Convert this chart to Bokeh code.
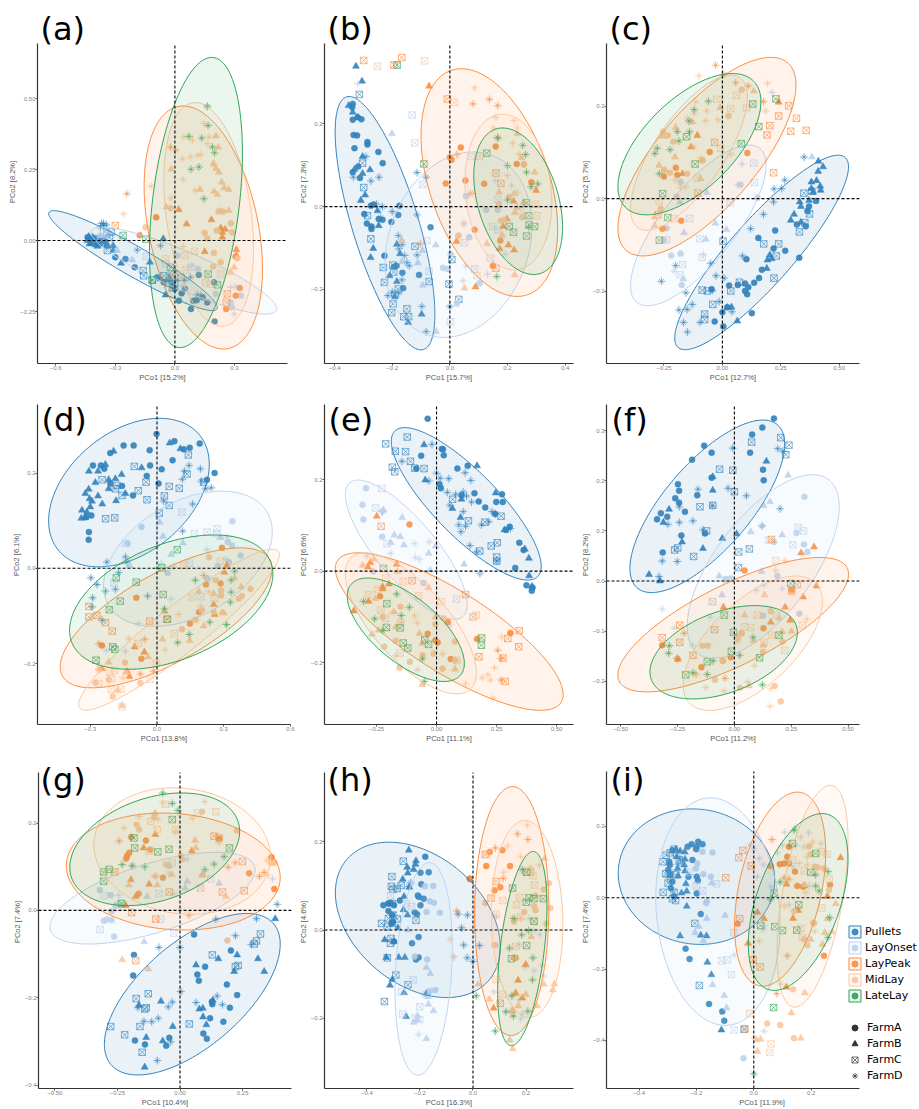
import numpy as np
from bokeh.embed import file_html
from bokeh.resources import INLINE
from bokeh.plotting import figure
from bokeh.layouts import row, column
from bokeh.models import Label, FixedTicker, Legend, LegendItem

STAGES = ["Pullets", "LayOnset", "LayPeak", "MidLay", "LateLay"]
STAGE_COLORS = ["#3182bd", "#bfd3ee", "#fd8d3c", "#fdc79b", "#31a354"]
FARMS = ["FarmA", "FarmB", "FarmC", "FarmD"]

# Ellipses: centre x, half width, centre y, half height, correlation
a_ell = [(-.211,.425,-.0706,.176,-.94),(.045,.468,-.106,.153,-.88),(.143,.298,.046,.428,-.34),(.17,.226,.092,.394,-.3),(.106,.234,.134,.511,.34)]
b_ell = [(-.225,.173,-.04,.306,-.72),(.03,.255,-.092,.224,.2),(.137,.237,.058,.275,-.41),(.203,.151,.035,.188,-.13),(.237,.154,.013,.177,-.35)]
c_ell = [(.168,.372,-.1165,.2106,.88),(-.103,.29,-.058,.174,.75),(-.066,.381,.091,.215,.72),(-.143,.25,.0995,.168,.72),(-.141,.306,.118,.153,.6)]
d_ell = [(-.126,.361,.159,.156,.38),(.139,.379,.02,.142,.4),(.041,.476,-.104,.147,.7),(.099,.451,-.129,.169,.93),(.064,.457,-.071,.141,.42)]
e_ell = [(.124,.3125,.147,.1665,-.82),(-.126,.254,.047,.152,-.79),(.053,.475,-.132,.172,-.8),(-.107,.273,-.114,.154,-.7),(-.128,.244,-.128,.113,-.65)]
f_ell = [(-.119,.34,.149,.172,.72),(.127,.334,.029,.183,.65),(-.005,.507,-.087,.134,.75),(.081,.306,-.124,.134,.62),(-.047,.324,-.142,.093,.42)]
g_ell = [(.049,.351,-.192,.185,.62),(-.11,.41,.028,.105,.62),(-.027,.427,.089,.134,-.1),(.009,.353,.136,.145,-.1),(-.101,.339,.14,.129,.32)]
h_ell = [(-.208,.311,.023,.176,-.35),(-.186,.108,-.088,.241,.2),(.146,.14,.043,.282,.02),(.204,.135,.025,.223,-.06),(.186,.093,-.042,.22,.44)]
i_ell = [(-.2,.273,.059,.19,-.05),(-.125,.217,-.039,.319,-.12),(.092,.159,.024,.272,.38),(.205,.124,.004,.311,.5),(.155,.174,-.012,.248,.48)]

# ---- panel (a)
a_pullets = dict(
 A=[(-.44,.012),(-.384,.009),(-.342,-.018),(-.30,-.059),(-.249,-.065),(-.202,-.094),(-.089,-.129),(-.056,-.147),(-.013,-.159),(.034,-.186),(.02,-.212),(.093,-.212),(.163,-.218),(.081,-.241),(.20,-.285),(.12,-.121),(.197,-.147),(-.41,.01),(-.37,0),(-.35,-.005),(-.39,-.006),(-.03,-.135),(0,-.17),(.05,-.17),(.14,-.2),(.11,-.21)],
 B=[(-.434,.014),(-.423,-.009),(-.409,0),(-.311,-.018),(-.311,-.035),(-.271,-.08),(-.126,-.076),(-.059,.006),(-.047,-.192),(-.072,-.135),(-.44,0),(-.43,-.012),(-.415,.012),(-.40,-.015),(-.39,-.02),(-.38,-.012),(-.36,0)],
 C=[(-.34,-.035),(-.16,-.106),(-.157,-.124),(-.114,-.139),(-.056,-.124),(-.013,-.167),(-.013,-.135),(-.342,.024),(-.38,-.005),(-.36,-.01),(-.33,.01),(-.32,.03),(-.03,-.15),(0,-.15),(.03,-.13)],
 D=[(-.359,.053),(-.375,.047),(-.19,-.033),(-.072,-.018),(.079,-.129),(.113,-.191),(.13,-.194),(.003,-.141),(-.36,.06),(-.345,.055),(-.37,.06),(0,-.11),(.05,-.14),(-.03,-.12)])
a_onset = dict(
 A=[(.116,-.10),(.332,-.194),(.281,-.218),(.286,-.235),(.205,-.188),(.012,-.053)],
 B=[(-.215,-.068),(-.291,-.035),(-.375,.018)],
 C=[(-.145,-.056),(-.342,.024),(-.375,.012),(.079,-.094),(-.047,-.082)],
 D=[(.298,-.259),(.281,-.165),(.306,-.162),(.084,-.088),(.037,-.159),(-.342,.035)])
a_peak = dict(
 A=[(-.177,.019),(-.094,.082),(.306,-.194),(.327,-.167),(.258,-.241),(.306,-.056)],
 B=[(.019,.109),(.059,.058),(.184,.073),(.231,.044),(.253,.04),(.239,.029),(.239,.012),(.15,-.039),(.31,-.032),(.31,-.053)],
 C=[(.264,-.188),(.259,-.218),(-.30,.053)],
 D=[(-.242,.165),(-.022,.329),(.003,.318)])
a_mid = dict(
 A=[(-.148,.047),(-.022,.114),(.219,.102),(.244,.102),(.21,.035),(.281,.061),(.15,.027),(.163,.008),(.197,-.044),(.231,-.076),(.192,-.091),(.315,-.062),(.288,.029)],
 B=[(.207,.368),(.219,.329),(-.019,.251),(.194,.271),(.221,.241),(.207,.253),(.236,.205),(.248,.185),(.271,.18),(.126,.18),(.197,.173),(.214,.161),(-.044,.118),(.271,.106),(.231,.104),(.298,-.094),(.281,-.112)],
 C=[(.099,-.038),(.051,-.053),(-.047,-.065),(.012,-.118),(.056,-.104),(.155,-.147),(.231,-.118),(.18,-.153),(-.022,-.124)],
 D=[(-.258,.094),(-.12,.192),(-.019,.149),(.042,.215),(.037,.288),(.113,.30),(.079,.294),(.13,.302),(.163,.47),(.146,.412),(.088,.353),(.045,.365),(.172,.365),(.163,.341),(.197,.265),(.101,.176),(.042,-.021)])
a_late = dict(
 C=[(-.261,.018),(-.146,.005),(.167,-.118),(.214,-.156),(-.022,-.094),(-.114,-.139)],
 D=[(.163,.473),(.167,.405),(.071,.367),(.135,.361),(.189,.329),(.2,.309),(.081,.251),(.121,.259),(.146,.147)])

# ---- panel (b)
b_pullets = dict(
 A=[(-.337,.248),(-.339,.24),(-.337,.21),(-.307,.211),(-.32,.216),(-.334,.173),(-.322,.172),(-.331,.141),(-.286,.156),(-.286,.15),(-.248,.132),(-.233,.105),(-.318,.097),(-.337,.083),(-.312,.069),(-.175,.002),(-.274,.002),(-.265,.005),(-.297,-.018),(-.288,-.041),(-.272,-.048),(-.272,-.054),(-.203,-.037),(-.247,-.03),(-.234,-.032),(-.179,-.02),(-.067,-.05),(-.227,-.119),(-.194,-.145),(-.185,-.143),(-.165,-.16),(-.162,-.197),(-.107,-.165)],
 B=[(-.326,.339),(-.305,.303),(-.351,.244),(-.337,.228),(-.32,.216),(-.303,.121),(-.331,.09),(-.303,.08),(-.277,.089),(-.294,.028),(-.309,.015),(-.251,-.01),(-.247,-.046),(-.266,-.101),(-.275,-.123),(-.184,-.091),(-.173,-.114),(-.209,-.167),(-.184,-.181),(-.191,-.218),(-.145,-.28),(-.098,-.26)],
 C=[(-.314,.271),(-.303,.105),(-.299,.046),(-.286,-.022),(-.274,-.078),(-.231,-.147),(-.198,-.141),(-.195,-.158),(-.227,-.183),(-.179,-.199),(-.191,-.212),(-.197,-.235),(-.202,-.256),(-.149,-.247),(-.16,-.266),(-.143,-.266),(-.121,-.096),(-.072,-.181),(-.003,-.187),(.007,-.128),(.031,-.224)],
 D=[(-.291,.121),(-.335,.071),(-.274,.062),(-.246,.071),(-.255,.006),(-.234,0),(-.24,-.027),(-.2,-.012),(-.114,-.02),(-.179,-.07),(-.177,-.102),(-.166,-.092),(-.157,-.118),(-.114,-.117),(-.149,-.135),(-.141,-.143),(-.166,-.177),(-.215,-.215),(-.177,-.209),(-.2,-.207),(-.097,-.241),(-.082,-.302),(-.114,.082),(-.083,.071),(0,-.241)])
b_onset = dict(
 A=[(.056,.025),(.126,-.008),(.166,-.008),(-.024,-.148),(-.008,-.151),(.003,-.115),(.024,-.234),(.103,-.185),(.03,-.07),(.067,-.074)],
 B=[(-.201,.176),(-.166,-.082),(-.095,-.106),(-.049,-.093),(-.111,-.136),(-.094,-.19),(-.047,-.302),(-.166,-.133)],
 C=[(-.131,.221),(-.122,.154),(-.094,.053),(-.08,-.082),(-.072,-.156),(.05,-.087),(.086,-.151),(.002,-.278),(.141,-.125),(.074,.121),(.166,.017),(.149,-.048),(.166,-.056)],
 D=[(-.32,.297),(.157,.063),(.049,-.042),(.055,-.144),(.046,-.179),(.131,-.163),(.192,-.115)])
b_peak = dict(
 A=[(.038,.143),(0,.119),(.006,.113),(-.014,.056),(.054,.063),(.119,.055),(.159,.145),(.086,-.056),(.149,-.143),(.175,-.082),(.232,.103),(.257,.102),(.283,.059)],
 B=[(-.072,.291),(.023,-.084),(.089,-.194),(.221,.013),(.299,.039),(.173,-.102),(.203,-.093),(.223,-.105),(.185,-.048),(.198,-.03)],
 C=[(-.299,.353),(-.167,.36),(-.194,.342),(-.009,.26),(.16,.081),(.177,.056),(.16,-.149)],
 D=[(-.103,-.09),(.024,.126),(.08,.248),(.137,.259),(.166,.244),(.166,.166),(.071,.032)])
b_mid = dict(
 A=[(.029,-.071),(.171,.006),(.206,.023),(.257,.103),(.177,-.034),(.189,-.032),(.251,-.026)],
 B=[(-.168,-.081),(.051,-.197),(.129,-.09),(.182,-.069),(.225,-.165),(.171,.035),(.223,.031),(.234,.176),(.248,.118),(.225,-.015),(.234,-.002),(.255,.01),(.294,.083)],
 C=[(-.251,.339),(-.088,.352),(.015,.252),(.103,.121),(.094,-.167),(.301,-.022),(.297,.006),(.246,-.01)],
 D=[(.086,.287),(.16,.215),(.223,.208),(.234,.19),(.152,.19),(.218,.153),(.24,.127),(.048,-.04),(.2,.075),(.214,.051),(.234,.035),(.08,.031)])
b_late = dict(
 C=[(-.183,.342),(.128,.129),(-.09,.103),(.266,.009),(.273,-.022),(.275,-.044),(.294,-.048),(.266,-.071),(.221,-.062),(.206,-.048)],
 D=[(.253,.148),(.263,.126),(.266,.083),(.2,.099),(.166,.166),(.305,.055),(.282,.048),(.2,.016),(.274,-.05),(.163,-.169)])

# ---- panel (c)
c_pullets = dict(
 A=[(.226,-.069),(.154,-.085),(.219,-.108),(.269,-.113),(.329,-.128),(.103,-.131),(.169,-.154),(.157,-.172),(.136,-.182),(.029,-.188),(.066,-.187),(.097,-.184),(.111,-.192),(.097,-.2),(.106,-.207),(-.046,-.196),(-.033,-.266),(0,-.246),(.021,-.235),(.004,-.277),(.126,-.248),(.364,-.027),(.401,-.005),(.371,-.017),(.319,-.056),(.357,-.06)],
 B=[(.411,.081),(.431,.069),(.41,.059),(.381,.036),(.403,.039),(.419,.027),(.421,.018),(.381,.022),(.389,.014),(.331,-.007),(.336,-.017),(.307,-.034),(.293,-.047),(.336,-.051),(.203,-.122),(.211,-.13),(.193,-.133),(.19,-.151),(.064,-.265),(.039,-.235),(.021,-.236),(.371,-.004)],
 C=[(.349,.012),(.383,.016),(.353,-.052),(.33,-.072),(.177,-.098),(.241,-.098),(.231,-.124),(.221,-.172),(.073,-.181),(.036,-.2),(-.086,-.198),(-.064,-.2),(-.041,-.229),(-.076,-.25),(-.076,-.262),(.003,-.092),(.373,-.033)],
 D=[(.35,.09),(.267,.04),(.221,.021),(.254,.022),(.219,-.007),(.176,-.034),(.121,-.065),(.086,-.124),(-.027,-.167),(.007,-.172),(-.05,-.14),(-.043,-.199),(-.014,-.223),(-.129,-.229),(-.151,-.24),(-.186,-.241),(-.166,-.268),(-.15,-.289),(-.096,-.268),(.041,-.245),(-.261,-.179),(-.2,-.145),(-.156,-.204)])
c_onset = dict(
 A=[(.15,.002),(.077,.03),(-.219,-.123),(-.179,-.119),(-.174,-.187),(-.239,-.064),(-.25,-.09),(-.179,.036)],
 B=[(.383,.09),(-.067,.013),(-.03,-.053),(.017,-.067),(-.071,-.088),(-.164,-.074),(-.167,-.174),(-.181,-.007)],
 C=[(.134,.077),(.137,.035),(.034,-.009),(-.14,-.043),(-.096,-.087),(-.171,-.143),(-.181,-.165),(-.239,-.089),(-.086,-.127)],
 D=[(.213,.23),(.084,.075),(.064,.03),(-.207,-.157),(-.081,-.121)])
c_peak = dict(
 A=[(.107,.099),(-.054,.101),(-.086,.083),(-.199,.067),(-.193,.051),(-.25,.048),(-.257,-.065),(-.176,-.048)],
 B=[(.241,.209),(-.134,.112),(-.107,.137),(-.171,.054)],
 C=[(.284,.201),(.241,.179),(.191,.138),(.203,.158),(.293,.146),(.359,.148),(.317,.174),(.219,.056),(-.033,.122),(-.104,.012),(-.276,-.035)],
 D=[(-.029,.289),(.176,.21),(.057,.251),(.111,.244),(.007,.268)])
c_mid = dict(
 A=[(.083,.236),(.026,.179),(-.233,.137),(-.254,.145),(-.25,.062),(-.224,.056),(-.15,.054),(-.196,.004),(-.086,.083),(-.21,.123),(-.264,-.022)],
 B=[(.134,.233),(-.01,.197),(-.254,.135),(-.271,.072),(-.246,.062),(-.203,.09),(-.093,.043),(-.29,-.058),(-.29,-.04),(-.2,.154),(-.129,.166)],
 C=[(-.024,.215),(.061,.224),(.036,.195),(.104,.197),(-.007,.109),(-.107,.045),(-.207,-.043),(-.271,-.006)],
 D=[(-.1,.266),(.193,.25),(.186,.19),(-.071,.169),(-.067,.19),(-.019,.171),(-.121,.185),(-.114,.21),(-.15,.174),(-.121,.112),(-.203,.04),(-.179,.025),(.036,.096),(-.093,.087),(-.157,.025)])
c_late = dict(
 C=[(.229,.216),(.13,.205),(.156,.156),(.081,.119),(-.117,.075),(-.256,.011),(-.234,-.041),(-.27,-.09),(-.153,.134)],
 D=[(-.06,.211),(-.121,.193),(-.143,.168),(-.141,.145),(-.193,.145),(-.186,.125),(-.224,.106),(-.279,.109),(-.289,.098),(-.27,.054)])

# ---- panel (d)
d_pullets = dict(
 A=[(-.002,.282),(-.15,.258),(-.105,.258),(-.033,.248),(.078,.267),(.12,.25),(.147,.253),(.192,.262),(.07,.227),(.021,.208),(-.031,.216),(-.046,.194),(.007,.178),(-.108,.153),(-.157,.173),(-.21,.242),(-.288,.216),(-.252,.216),(-.237,.209),(-.21,.178),(.259,.2),(.225,.186),(-.295,.111),(-.306,.076),(-.307,.06),(-.318,.108)],
 B=[(-.195,.246),(.057,.263),(.105,.251),(-.232,.218),(-.265,.204),(-.306,.204),(-.277,.18),(-.217,.186),(-.187,.188),(-.159,.197),(-.069,.211),(-.217,.167),(-.142,.157),(-.184,.142),(-.265,.152),(-.246,.135),(-.307,.166),(-.322,.157),(-.303,.146),(-.292,.141),(-.3,.129),(-.337,.122),(-.315,.118),(-.34,.105),(-.322,.106)],
 C=[(.141,.238),(-.102,.214),(-.247,.186),(-.18,.174),(-.187,.167),(-.157,.153),(-.084,.163),(-.049,.181),(-.045,.144),(.055,.172),(.1,.168),(.135,.198),(.21,.181),(.033,.152),(.055,.132),(.01,.116),(-.231,.104),(-.19,.106)],
 D=[(.144,.216),(.123,.204),(.114,.187),(.195,.209),(.199,.183),(.22,.167),(.244,.169),(.16,.135),(.03,.141),(.115,.078),(-.225,.013),(-.142,.024),(-.135,.013),(-.172,-.009),(-.297,-.02),(-.27,-.034),(-.232,-.048),(-.187,-.044),(-.289,-.062),(-.292,-.081),(-.247,-.109),(-.042,-.058)])
d_onset = dict(
 A=[(.339,.099),(-.069,.087),(-.132,.052),(.318,.055),(.337,.048),(.376,.027),(.324,.013),(.274,.005),(.048,-.01),(.225,-.022)],
 B=[(.012,.097),(.027,.067),(.117,.053),(.064,.029),(.285,.065),(-.123,.006)],
 C=[(.112,.118),(.168,.073),(.225,.076),(.27,.083),(.267,.073),(-.142,.052),(.145,.011),(.198,-.06),(-.193,-.031)],
 D=[(.225,.039),(.315,.066),(.31,.019),(.018,.01),(.075,.003),(.063,-.065),(-.085,-.116),(-.142,-.174),(-.228,-.172),(.235,-.023)])
d_peak = dict(
 A=[(.292,.043),(-.093,-.062),(.22,-.034),(.286,-.032),(.189,-.092),(.148,-.116),(-.07,-.19),(-.247,-.162)],
 B=[(.313,.006),(.303,-.008),(.255,-.076),(.034,-.09),(.259,-.097),(-.1,-.165),(-.057,-.176),(-.135,-.216),(-.124,-.227),(-.247,-.211)],
 C=[(-.306,-.08),(-.306,-.102),(-.231,-.114),(-.201,-.132),(-.033,-.111),(.048,-.107),(-.27,-.099)],
 D=[(-.262,-.158),(-.055,-.149),(-.075,-.222),(-.015,-.216),(-.259,-.211),(.21,-.015)])
d_mid = dict(
 A=[(.234,.023),(.264,-.025),(.288,-.046),(.288,-.057),(.367,-.064),(.382,-.058),(.42,-.043),(.112,-.128),(.172,-.108),(-.075,-.241),(-.217,-.234),(-.199,-.269),(-.277,-.24),(-.144,-.198),(.255,-.092),(.202,-.088)],
 B=[(.187,-.048),(.255,-.053),(.349,-.02),(.378,-.039),(.292,-.093),(.21,-.121),(.025,-.149),(.147,-.152),(-.04,-.186),(-.217,-.197),(-.177,-.256),(-.157,-.288),(-.138,-.218),(.3,-.094)],
 C=[(.285,.015),(.157,-.06),(.258,-.064),(.078,-.137),(-.085,-.158),(-.004,-.2),(-.03,-.233),(-.205,-.232),(-.19,-.214),(-.213,-.218),(-.261,-.242),(-.205,-.254),(-.162,-.254),(-.157,-.291),(.12,.006)],
 D=[(.18,-.109),(.195,-.079),(.232,-.05),(.097,-.097),(.037,-.171),(-.127,-.148),(-.258,-.214),(-.262,-.211),(-.153,-.23)])
d_late = dict(
 C=[(.091,.039),(.022,.001),(-.183,-.02),(-.093,-.029),(.028,-.055),(-.165,-.069),(-.214,-.087),(.045,-.107),(-.199,-.165),(-.189,-.17),(-.274,-.193)],
 D=[(.172,-.025),(.349,-.006),(.333,-.025),(.333,-.05),(.034,-.085),(.237,-.113),(.312,-.118),(.093,-.156),(.145,-.139),(.33,-.071)])

# ---- panel (e)
e_pullets = dict(
 A=[(-.037,.333),(.022,.267),(.027,.266),(-.064,.252),(.03,.253),(-.084,.224),(.087,.224),(.13,.23),(.012,.19),(.018,.181),(.104,.166),(.158,.17),(.176,.152),(.249,.151),(.276,.151),(.273,.168),(.203,.139),(.244,.125),(.305,.097),(.345,.062),(.363,.046),(.328,.007),(.375,-.031),(.397,-.043),(.29,.09),(.4,-.036)],
 B=[(-.052,.276),(-.047,.199),(.169,.23),(.104,.157),(.066,.137),(.1,.117),(.247,.171),(.283,.09),(.368,.048),(.385,.028),(.386,-.01),(.398,-.033)],
 C=[(-.122,.293),(-.212,.278),(-.172,.262),(-.129,.261),(-.109,.24),(-.184,.227),(-.174,.217),(-.091,.225),(-.052,.224),(.067,.157),(.133,.11),(.202,.107),(.269,.12),(.253,.062),(.228,.055),(.18,.044),(.251,.031),(.251,.022)],
 D=[(-.019,.277),(-.144,.24),(0,.214),(-.032,.197),(.015,.203),(.051,.202),(.143,.198),(.119,.215),(.045,.172),(.08,.168),(.111,.173),(.125,.164),(.146,.151),(.055,.144),(.111,.13),(.231,.13),(.246,.125),(.093,.101),(.121,.098),(.102,.086),(.218,.108),(.187,.101),(.139,.056),(.166,.042),(.251,.022),(.181,-.005),(.308,.093),(-.225,.131)])
e_onset = dict(
 A=[(-.294,.181),(-.309,.145),(-.305,.113),(-.227,.075),(-.264,-.001),(-.054,-.026)],
 B=[(-.221,.133),(-.143,.117),(-.176,.079),(-.151,.075),(-.136,.057),(-.191,.062),(-.033,.039),(-.003,.055),(.115,.015),(-.026,.002)],
 C=[(-.228,.181),(-.254,.138),(-.206,.06),(.084,-.061),(.152,-.1)],
 D=[(-.091,.06),(-.03,.064),(-.191,.039),(-.088,.03),(-.071,.026),(-.29,.033),(.183,-.005),(-.229,.13),(.056,-.117)])
e_peak = dict(
 A=[(-.113,.102),(-.235,-.055),(-.005,-.151),(.005,-.156),(-.037,-.137),(.169,-.148),(.059,-.192),(.308,-.135),(.047,-.111)],
 B=[(-.249,.12),(-.276,.019),(-.286,.009),(-.166,.015),(-.225,-.034),(-.225,-.039),(-.198,-.028),(-.283,-.066),(-.345,-.087)],
 C=[(-.231,.098),(-.102,-.021),(.177,-.187),(.277,-.19),(.297,-.147),(.343,-.165),(.286,-.241),(.345,-.13),(.121,-.051)],
 D=[(.255,-.173),(.269,-.191),(.269,-.238),(.08,-.195)])
e_mid = dict(
 A=[(-.15,-.078),(-.17,-.152),(-.218,-.165),(-.225,-.1),(-.111,-.198),(-.154,-.211),(-.058,-.184),(.025,-.213),(.077,-.154),(-.012,-.18),(.029,-.103),(-.005,-.116)],
 B=[(-.308,.013),(-.262,.026),(-.163,-.001),(-.033,-.036),(-.255,-.06),(-.177,-.089),(-.269,-.138),(-.242,-.129),(-.17,-.122),(-.071,-.136),(-.06,-.158),(.077,-.214),(-.005,-.1),(-.06,-.248)],
 C=[(-.139,-.023),(-.074,-.054),(.019,-.067),(-.246,-.04),(-.232,-.085),(-.212,-.103),(-.15,-.112),(-.152,-.179),(.084,-.195),(.166,-.096),(.152,-.1),(-.284,-.052),(-.212,-.015)],
 D=[(-.181,-.09),(-.092,-.098),(-.081,-.113),(-.17,-.185),(-.078,-.215),(.025,-.181),(.214,-.226),(.225,-.238),(.19,-.233),(.242,-.211),(.272,-.144),(.235,-.278),(.121,-.246),(.077,-.195),(-.146,-.112)])
e_late = dict(
 C=[(-.221,.006),(-.207,-.071),(-.209,-.123),(-.152,-.124),(-.139,-.157),(-.12,-.168),(-.049,-.15),(-.033,-.16),(.188,-.146),(.187,-.162)],
 D=[(-.166,-.05),(-.304,-.066),(-.258,-.104),(-.113,-.079),(-.147,-.097),(-.225,-.13),(-.059,-.192),(-.051,-.241)])

# ---- panel (f)
f_pullets = dict(
 A=[(.174,.324),(.123,.306),(.078,.292),(.069,.256),(.126,.222),(.129,.201),(-.133,.27),(-.1,.256),(-.186,.242),(-.248,.193),(-.243,.18),(-.163,.171),(-.26,.165),(-.243,.156),(-.217,.138),(-.323,.135),(-.295,.128),(-.34,.123),(-.233,.091),(-.315,.057),(-.129,.095),(-.1,.206)],
 B=[(.141,.239),(-.095,.208),(-.095,.181),(-.287,.143),(-.312,.117),(-.23,.078),(-.138,.065),(-.053,.085),(.01,.094),(-.375,.013),(-.327,0)],
 C=[(.076,.277),(.204,.286),(.24,.271),(.226,.252),(-.065,.223),(-.007,.221),(0,.178),(-.095,.151),(-.151,.148),(-.122,.1),(-.262,.062),(-.249,.066),(-.179,.049),(.019,.058),(.066,.064),(.018,.027)],
 D=[(-.007,.265),(.191,.264),(.213,.259),(-.16,.183),(-.028,.185),(.053,.17),(-.242,.148),(-.097,.15),(-.242,.117),(-.182,.12),(-.292,.113),(-.138,.102),(-.317,.04),(-.251,.039),(-.331,.009),(.122,.11),(.201,.144)])
f_onset = dict(
 A=[(.308,.168),(.273,.096),(.306,.073),(.321,.058),(.174,.078),(.189,.01),(-.038,.004),(-.016,.005),(.126,-.069),(.286,-.065)],
 B=[(.236,.211),(.13,.15),(.157,.158),(.072,.098),(.21,.092),(-.067,.01),(.119,.019),(-.054,-.028)],
 C=[(.28,.107),(.304,.1),(.257,.072),(-.095,-.041),(.152,.082)],
 D=[(.119,.11),(.097,-.018),(.13,-.008),(.21,-.015),(-.317,-.056),(-.265,-.094),(-.107,-.072),(-.185,-.128),(-.048,.001)])
f_peak = dict(
 A=[(.045,.021),(.252,-.018),(.128,-.094),(.031,-.104),(-.051,-.159),(-.145,-.172),(-.317,-.128),(-.016,-.152)],
 B=[(.293,.056),(.35,.068),(.361,-.01),(.302,-.032),(.223,-.052),(-.048,-.052),(.16,-.082),(.245,-.078),(-.248,-.156)],
 C=[(-.317,-.113),(-.24,-.088),(-.24,-.122),(-.087,-.097),(-.182,-.148),(.163,.083),(.277,-.007),(.252,-.02)],
 D=[(-.221,-.104),(-.251,-.154),(-.251,-.155),(-.041,-.194)])
f_mid = dict(
 A=[(.16,-.06),(.204,-.24),(.177,-.209),(-.119,-.129),(-.141,-.129),(-.085,-.197),(.025,-.213),(-.051,-.159),(.211,-.121),(.126,-.141),(.032,-.104),(.013,-.114)],
 B=[(.133,-.028),(.045,-.068),(.196,-.074),(.251,-.1),(.21,-.101),(.065,-.209),(.084,-.119),(.128,-.128)],
 C=[(.182,.041),(-.097,-.041),(.045,-.091),(.072,-.093),(.101,-.068),(.185,-.068),(.163,-.108),(.221,-.138),(.299,-.088),(.13,-.122),(.016,-.111)],
 D=[(.221,.041),(.182,.021),(.318,-.076),(-.111,-.128),(-.167,-.186),(-.126,-.212),(-.045,-.219),(.057,-.201),(.089,-.169),(.157,-.25),(.16,-.214),(-.17,-.186),(.013,-.121)])
f_late = dict(
 C=[(.248,-.005),(-.045,-.068),(-.004,-.102),(.196,-.108),(-.013,-.14),(.111,-.153),(-.119,-.161),(-.214,-.187)],
 D=[(-.286,-.129),(-.289,-.144),(-.094,-.159),(-.182,-.183),(-.119,-.186),(.023,-.148),(.082,-.112),(.123,-.207)])

# ---- panel (g)
g_pullets = dict(
 A=[(.056,-.055),(.203,-.092),(-.184,-.102),(-.187,-.149),(.1,-.129),(.069,-.147),(.075,-.161),(.187,-.17),(.228,-.194),(.199,-.223),(.173,-.255),(.127,-.209),(.129,-.215),(.12,-.247),(.093,-.282),(.107,-.294),(-.18,-.298),(-.14,-.307),(-.055,-.31),(-.043,-.292)],
 B=[(.38,-.019),(.153,-.111),(.228,-.102),(.311,-.111),(.216,-.14),(.336,-.14),(.064,-.125),(-.164,-.217),(-.076,-.208),(.131,-.206),(.077,-.226),(.091,-.224),(.092,-.244),(.105,-.262),(-.029,-.266),(-.135,-.291),(-.069,-.299),(-.141,-.359)],
 C=[(.321,-.054),(.305,-.07),(.296,-.077),(.129,-.102),(.232,-.126),(.221,-.129),(-.175,-.202),(-.127,-.191),(-.135,-.223),(-.16,-.266),(-.141,-.226),(-.277,-.266),(-.221,-.285),(-.151,-.325),(.037,-.26)],
 D=[(.388,.014),(.305,-.019),(.143,-.02),(.221,-.058),(.285,-.078),(-.084,-.085),(0,-.085),(.003,-.186),(.064,-.211),(.148,-.196),(.169,-.216),(-.031,-.21),(-.047,-.221),(-.168,-.223),(-.087,-.247),(-.144,-.254),(-.113,-.255),(-.037,-.301),(-.091,-.344)])
g_onset = dict(
 A=[(-.32,.047),(-.277,.035),(-.257,.011),(-.304,-.024),(-.291,-.021),(-.273,-.022),(-.263,-.06),(-.044,.102),(-.273,-.002),(-.237,.011)],
 B=[(-.143,-.072),(-.044,.102),(.029,.066),(.02,.051),(-.131,.032),(.156,.062),(-.217,.011),(-.257,.011)],
 C=[(-.303,.034),(-.319,-.044),(-.025,-.052),(-.077,-.02),(-.084,.038),(.08,.051),(.123,.072),(-.237,.015)],
 D=[(-.244,.034),(-.188,.102),(-.024,.038),(.029,.117),(.369,.072)])
g_peak = dict(
 A=[(-.195,.168),(-.136,.16),(-.119,.139),(-.203,.132),(-.211,.125),(-.215,.119),(-.068,.075),(-.165,.038),(.276,.085),(.376,.049),(.156,.164),(.365,.122)],
 B=[(-.099,.174),(-.145,.143),(-.196,.07),(-.123,.06),(-.177,.032),(.047,.136),(-.217,.011),(.089,.081)],
 C=[(-.177,-.115),(.136,.17),(.156,.166),(-.193,-.005),(-.097,-.02),(.169,.042),(.256,.045),(.249,.112),(-.043,.042),(-.26,.088)],
 D=[(-.243,.159),(.22,.109),(.192,.099),(.336,.087),(.317,.078),(.036,-.011),(-.1,.078)])
g_mid = dict(
 A=[(.189,-.069),(.088,.226),(-.104,.213),(-.173,.196),(-.163,.185),(-.056,.105),(.227,.183),(.003,.125),(.009,.117),(.363,.109),(.376,.109)],
 B=[(-.231,-.113),(-.127,-.134),(.06,.16),(.063,.143),(-.033,.082),(-.1,.223),(-.204,.058),(-.091,.058),(.089,.081),(.183,.032)],
 C=[(-.177,-.115),(-.057,.243),(.069,.223),(.143,.226),(-.117,.204),(-.091,.185),(-.017,.185),(-.124,.136),(-.031,.109),(-.264,.087),(.083,.051)],
 D=[(-.071,.247),(-.164,.215),(-.088,.209),(-.224,.189),(.049,.211),(-.017,.179),(.156,.155),(.099,.249),(.349,.081),(.347,.115),(-.093,.078),(-.044,.085)])
g_late = dict(
 C=[(-.031,.208),(-.184,.166),(-.181,.143),(-.089,.134),(-.044,.14),(.197,.143),(-.283,.094),(-.305,.088),(-.305,.067),(-.233,.016)],
 D=[(-.069,.269),(-.031,.245),(-.008,.229),(-.141,.1),(-.231,.105),(.136,.106),(.099,.093),(.176,.123),(-.191,.102)])

# ---- panel (h)
h_pullets = dict(
 A=[(-.18,.166),(-.198,.13),(-.167,.131),(-.195,.104),(-.208,.078),(-.204,.075),(-.186,.071),(-.198,.056),(-.22,.04),(-.211,.036),(-.338,.056),(-.32,.06),(-.311,.062),(-.298,.056),(-.319,.043),(-.304,.034),(-.302,.019),(-.276,.067),(-.23,-.03),(-.205,-.016),(-.298,-.026),(-.205,-.062),(-.215,-.067),(-.307,.015),(-.012,.116)],
 B=[(-.242,.181),(-.215,.157),(-.217,.149),(-.248,.142),(-.224,.137),(-.246,.129),(-.265,.115),(-.24,.097),(-.26,.076),(-.262,.046),(-.247,.034),(-.283,.005),(-.333,-.022),(-.298,-.026),(-.28,-.062),(-.257,-.062),(-.327,-.062),(-.304,-.112),(-.313,-.125),(-.26,-.142),(-.252,-.196),(-.176,-.144)],
 C=[(-.263,.156),(-.306,.121),(-.308,.099),(-.302,.092),(-.286,.094),(-.271,.101),(-.304,.06),(-.345,.015),(-.319,.026),(-.302,.034),(-.286,.025),(-.304,.015),(-.324,.007),(-.309,-.019),(-.311,-.03),(-.323,-.063),(-.291,-.102),(-.245,-.124),(-.334,-.162),(-.215,.022)],
 D=[(-.235,.107),(-.243,.099),(-.056,.036),(-.021,.034),(-.043,.005),(-.035,-.034),(.025,-.035),(-.022,-.063),(0,-.071),(-.174,-.146)])
h_onset = dict(
 A=[(-.181,.099),(-.15,.1),(-.163,.065),(-.147,.062),(-.175,.041),(-.125,.039),(-.173,-.067),(-.22,-.06),(-.163,-.138),(-.142,-.136)],
 B=[(-.176,-.085),(-.161,-.099),(-.17,-.151),(-.168,-.168),(-.149,-.183),(-.209,-.194),(-.224,-.209),(-.211,-.204),(-.176,-.246),(-.245,0)],
 C=[(-.232,.053),(-.252,.06),(-.265,-.19),(-.226,-.113),(-.27,-.14),(-.201,-.174),(-.201,-.203),(-.217,-.199),(-.311,.078)],
 D=[(-.234,.108),(-.073,-.061),(-.205,-.237),(-.186,-.147),(.093,-.034),(.078,-.14),(.211,.026),(.251,-.01),(.23,-.001),(.174,-.034),(.196,-.084),(.23,-.092),(.261,-.08),(.267,-.104),(.147,-.149),(.174,-.158),(.186,-.19),(.18,-.201),(.143,-.183),(.089,.031)])
h_peak = dict(
 A=[(-.012,.116),(.063,.177),(.111,.181),(.05,.145),(.14,.145),(.081,.09),(.103,.097),(.161,-.063)],
 B=[(.17,-.114),(.199,-.078),(.078,-.177),(.161,-.143),(.186,-.154),(.149,-.183)],
 C=[(.046,.171),(.087,.11),(.068,.072),(.103,-.166),(.217,.131)],
 D=[(.084,.186),(.114,.117),(.168,.218),(.207,.205),(-.061,.043)])
h_mid = dict(
 A=[(.046,.061),(.23,.054),(.236,.045),(.286,.106),(.267,.092),(.292,.05),(.081,-.034),(.155,-.062),(.236,.078),(.277,.015),(.155,.019),(.193,.041)],
 B=[(.019,-.123),(.062,-.157),(.271,.162),(.22,-.015),(.267,-.123),(.307,-.122),(.301,-.136),(.139,-.249),(.15,-.269),(.242,-.172),(.17,-.172),(.199,-.146),(.149,-.183)],
 C=[(.051,.172),(.068,.072),(.087,.036),(.112,.067),(.176,.073),(.164,.057),(.226,.123),(.232,.102),(.18,.03),(.23,.019),(.087,-.112),(.112,-.146),(.161,-.037)],
 D=[(.205,.238),(.13,.19),(.18,.166),(.116,.131),(.217,.142),(.251,.147),(.193,.129),(.149,.026),(-.086,-.021),(-.072,-.061),(.18,.026)])
h_late = dict(
 C=[(.202,.131),(.149,.095),(.201,.063),(.211,.073),(.23,.071),(.265,.071),(.23,.02),(.202,-.035),(.145,-.065)],
 D=[(.186,.137),(.155,.026),(.183,-.011),(.137,-.041),(.209,-.001),(.226,-.063),(.224,-.113),(.012,-.149),(.084,-.229),(.124,-.185),(.152,-.195),(.207,-.184),(.147,-.149)])

# ---- panel (i)
i_pullets = dict(
 A=[(-.194,.157),(-.179,.15),(-.217,.15),(-.231,.143),(-.199,.143),(-.201,.136),(-.214,.106),(-.284,.133),(-.293,.092),(-.299,.078),(-.29,.064),(-.228,.059),(-.199,.059),(-.195,.048),(-.199,.012),(-.29,.027),(-.278,.004),(-.185,-.046),(-.238,-.143),(-.224,-.172),(-.156,-.298),(-.11,-.319),(-.103,-.345),(-.284,.045),(-.295,.101)],
 B=[(-.272,.136),(-.257,.131),(-.241,.128),(-.269,.115),(-.24,.108),(-.243,.092),(-.266,.082),(-.24,.075),(-.264,.061),(-.237,.039),(-.252,.013),(-.234,.018),(-.234,-.024),(-.257,-.107),(-.185,-.105),(-.165,-.107),(-.162,-.181),(-.148,-.216),(-.113,-.371)],
 C=[(-.306,.119),(-.292,.126),(-.278,.136),(-.317,.101),(-.269,.119),(-.26,.106),(-.307,.067),(-.272,.064),(-.299,.041),(-.316,.015),(-.284,-.003),(-.273,-.008),(-.278,.015),(-.206,-.072),(-.19,-.246),(-.034,-.369)],
 D=[(-.295,.092),(-.29,.073),(-.301,.059),(-.29,.045),(-.284,.022),(-.264,.094),(-.255,.106)])
i_onset = dict(
 A=[(-.179,.129),(-.144,.127),(-.15,.059),(-.176,.066),(-.202,.082),(-.197,.096),(-.166,-.015),(-.036,-.45)],
 B=[(-.147,.041),(-.164,-.007),(-.1,-.05),(-.205,-.098),(-.193,-.081),(-.164,-.058),(-.176,-.121),(-.144,-.244),(-.103,-.274),(-.095,-.309)],
 C=[(-.223,.071),(-.201,.033),(-.179,.019),(-.13,.039),(-.112,-.177),(-.093,-.174),(-.078,-.216),(-.069,-.371),(-.034,-.367),(-.069,-.098)],
 D=[(-.015,.147),(.001,.137),(.019,.11),(.033,.092),(.083,.126),(.1,.147),(.108,.184),(.145,.198),(.191,.182),(.117,.106),(.147,.147),(.176,.143),(.013,.059),(.059,.031),(.123,-.02),(.036,-.08),(.033,-.089),(-.069,-.161),(.036,-.374),(.137,.087),(.193,.033)])
i_peak = dict(
 A=[(.059,.089),(.091,.094),(.106,.096),(.117,.115),(.123,.096),(.144,.073),(.123,.143),(.152,.033),(.172,.031),(-.056,-.073),(.266,.036),(.245,-.163)],
 B=[(.114,.038),(.176,.033),(.155,-.036),(.137,-.058),(.036,-.059),(.013,-.041),(-.02,-.128),(.114,-.251),(.257,.004),(.303,.112)],
 C=[(-.038,.133),(-.052,.112),(-.098,.056),(-.009,.089),(-.049,-.059),(-.002,-.174),(.022,-.194),(-.031,-.368)],
 D=[(.064,.163),(.117,-.163),(.08,-.269),(.106,.055),(.123,.052)])
i_mid = dict(
 A=[(.047,-.353),(.092,-.357),(.14,-.394),(.137,-.257),(.187,-.133),(.176,-.117),(.21,-.072),(.141,-.038),(.213,.087),(.222,.085),(.193,.144),(.199,.122),(.245,.082),(.263,.022),(.208,-.07)],
 B=[(.01,-.399),(.024,-.397),(.013,-.431),(.131,-.323),(.164,-.394),(.178,-.267),(.199,-.117),(.24,-.131),(.248,-.098),(.274,-.096),(.286,-.017),(.257,-.059),(.178,.036)],
 C=[(-.014,-.325),(.06,-.41),(.056,-.434),(.17,-.112),(.164,-.086),(.237,-.029),(.263,.052),(.236,.129),(.257,.122),(.176,.076),(.135,.106)],
 D=[(0,-.394),(.213,-.094),(.164,.17),(.205,.156),(.234,.152),(.187,.115),(.158,.096),(.187,.092),(.181,.015),(.106,-.024),(.094,-.242),(.019,-.121)])
i_late = dict(
 C=[(.135,.152),(.216,.124),(.199,.071),(.071,.013),(.157,-.02),(.024,-.078),(.073,-.081),(.1,-.092),(.15,-.091),(.069,-.308)],
 D=[(.141,.189),(.092,.044),(.059,-.006),(.259,.073),(.216,.064),(.216,.033),(.228,.019),(.265,-.056),(.259,-.112),(0,-.494)])

# Panel axis settings
a_ticks = ([-.6,-.3,0,.3], ["−0.6","−0.3","0.0","0.3"], [-.25,0,.25,.5], ["−0.25","0.00","0.25","0.50"])
b_ticks = ([-.4,-.2,0,.2,.4], ["−0.4","−0.2","0.0","0.2","0.4"], [-.2,0,.2], ["−0.2","0.0","0.2"])
c_ticks = ([-.25,0,.25,.5], ["−0.25","0.00","0.25","0.50"], [-.2,0,.2], ["−0.2","0.0","0.2"])
d_ticks = ([-.3,0,.3,.6], ["−0.3","0.0","0.3","0.6"], [-.2,0,.2], ["−0.2","0.0","0.2"])
e_ticks = ([-.25,0,.25,.5], ["−0.25","0.00","0.25","0.50"], [-.2,0,.2], ["−0.2","0.0","0.2"])
f_ticks = ([-.5,-.25,0,.25,.5], ["−0.50","−0.25","0.00","0.25","0.50"], [-.2,-.1,0,.1,.2,.3], ["−0.2","−0.1","0.0","0.1","0.2","0.3"])
g_ticks = ([-.5,-.25,0,.25], ["−0.50","−0.25","0.00","0.25"], [-.4,-.2,0,.2], ["−0.4","−0.2","0.0","0.2"])
h_ticks = ([-.4,-.2,0,.2], ["−0.4","−0.2","0.0","0.2"], [-.2,0,.2], ["−0.2","0.0","0.2"])
i_ticks = ([-.4,-.2,0,.2], ["−0.4","−0.2","0.0","0.2"], [-.4,-.2,0,.2], ["−0.4","−0.2","0.0","0.2"])

panels = [
 dict(tag="(a)", xr=(-.692,.567), yr=(-.433,.694), xt="PCo1 [15.2%]", yt="PCo2 [8.2%]", ticks=a_ticks, ell=a_ell, pts=[a_pullets,a_onset,a_peak,a_mid,a_late]),
 dict(tag="(b)", xr=(-.435,.429), yr=(-.379,.394), xt="PCo1 [15.7%]", yt="PCo2 [7.3%]", ticks=b_ticks, ell=b_ell, pts=[b_pullets,b_onset,b_peak,b_mid,b_late]),
 dict(tag="(c)", xr=(-.496,.587), yr=(-.357,.336), xt="PCo1 [12.7%]", yt="PCo2 [5.7%]", ticks=c_ticks, ell=c_ell, pts=[c_pullets,c_onset,c_peak,c_mid,c_late]),
 dict(tag="(d)", xr=(-.537,.6), yr=(-.328,.344), xt="PCo1 [13.8%]", yt="PCo2 [6.1%]", ticks=d_ticks, ell=d_ell, pts=[d_pullets,d_onset,d_peak,d_mid,d_late]),
 dict(tag="(e)", xr=(-.467,.571), yr=(-.335,.364), xt="PCo1 [11.1%]", yt="PCo2 [6.6%]", ticks=e_ticks, ell=e_ell, pts=[e_pullets,e_onset,e_peak,e_mid,e_late]),
 dict(tag="(f)", xr=(-.562,.55), yr=(-.286,.352), xt="PCo1 [11.2%]", yt="PCo2 [8.2%]", ticks=f_ticks, ell=f_ell, pts=[f_pullets,f_onset,f_peak,f_mid,f_late]),
 dict(tag="(g)", xr=(-.565,.445), yr=(-.408,.316), xt="PCo1 [10.4%]", yt="PCo2 [7.4%]", ticks=g_ticks, ell=g_ell, pts=[g_pullets,g_onset,g_peak,g_mid,g_late]),
 dict(tag="(h)", xr=(-.56,.379), yr=(-.359,.357), xt="PCo1 [16.3%]", yt="PCo2 [4.6%]", ticks=h_ticks, ell=h_ell, pts=[h_pullets,h_onset,h_peak,h_mid,h_late]),
 dict(tag="(i)", xr=(-.514,.369), yr=(-.535,.354), xt="PCo1 [11.9%]", yt="PCo2 [7.4%]", ticks=i_ticks, ell=i_ell, pts=[i_pullets,i_onset,i_peak,i_mid,i_late]),
]

# Layout: width, height, borders (left, right, top, bottom), extra frame (right, top), tag offset (x, y)
layout_specs = [
 (295,385,37,8,0,22,0,43,3,335),(282,385,26,4,0,22,0,43,3,335),(340,385,29,58,0,22,0,43,3,335),
 (295,370,37,5,0,31,0,19,4,305),(282,370,26,4,0,31,0,19,4,305),(340,370,29,58,0,31,0,19,5,305),
 (295,354,38,4,0,20,0,17,2,309),(282,354,26,4,0,20,0,17,3,309),(340,354,29,0,0,20,58,16,4,309),
]


def ellipse_outline(cx, a, cy, b, r):
    t = np.linspace(0, 2 * np.pi, 181)
    return cx + a * np.cos(t), cy + b * (r * np.cos(t) + np.sqrt(1 - r * r) * np.sin(t))


def draw_points(p, farm_points, color):
    for farm, pts in farm_points.items():
        x = [q[0] for q in pts]
        y = [q[1] for q in pts]
        if farm == "A":
            p.scatter(x, y, marker="circle", size=6, fill_color=color, line_color=color, line_width=0.5, alpha=0.9)
        elif farm == "B":
            p.scatter(x, y, marker="triangle", size=7, fill_color=color, line_color=color, line_width=0.5, alpha=0.9)
        elif farm == "C":
            p.scatter(x, y, marker="square_x", size=6.5, fill_color=None, line_color=color, line_width=0.7, alpha=0.9)
        else:
            p.scatter(x, y, marker="cross", size=8, line_color=color, line_width=0.7, alpha=0.9)
            p.scatter(x, y, marker="x", size=6.5, line_color=color, line_width=0.7, alpha=0.9)


NO_DATA = [float("nan")]
figs = []
for panel, spec in zip(panels, layout_specs):
    w, h, bl, br, bt, bb, ex_r, ex_t, tx, ty = spec
    x0, x1 = panel["xr"]
    y0, y1 = panel["yr"]
    fw = w - bl - br - ex_r
    fh = h - bt - bb - ex_t
    p = figure(width=w, height=h,
               x_range=(x0, x1 + (x1 - x0) * ex_r / fw),
               y_range=(y0, y1 + (y1 - y0) * ex_t / fh),
               min_border_left=bl, min_border_right=br, min_border_top=bt, min_border_bottom=bb,
               output_backend="svg", toolbar_location=None, background_fill_color="white",
               border_fill_color=None, outline_line_color=None)
    p.grid.visible = False
    xt, xl, yt, yl = panel["ticks"]
    p.xaxis.ticker = FixedTicker(ticks=xt)
    p.yaxis.ticker = FixedTicker(ticks=yt)
    p.xaxis.major_label_overrides = dict(zip(xt, xl))
    p.yaxis.major_label_overrides = dict(zip(yt, yl))
    p.xaxis.axis_label = panel["xt"]
    p.yaxis.axis_label = panel["yt"]
    p.xaxis.bounds = (x0, x1)
    p.yaxis.bounds = (y0, y1)
    for ax in (p.xaxis[0], p.yaxis[0]):
        ax.axis_line_color = "#333333"
        ax.axis_line_width = 1.2
        ax.major_tick_line_color = "#555555"
        ax.major_tick_in = 0
        ax.major_tick_out = 2
        ax.minor_tick_line_color = None
        ax.major_label_text_font = "Liberation Sans"
        ax.major_label_text_font_size = "6px"
        ax.major_label_text_color = "#7f7f7f"
        ax.major_label_standoff = 0
        ax.axis_label_text_font = "Liberation Sans"
        ax.axis_label_text_font_size = "7.5px"
        ax.axis_label_text_font_style = "normal"
        ax.axis_label_text_color = "#555555"
        ax.axis_label_standoff = 0

    for farm_points, color in zip(panel["pts"], STAGE_COLORS):
        draw_points(p, farm_points, color)
    patches = []
    for ell, color in zip(panel["ell"], STAGE_COLORS):
        ex, ey = ellipse_outline(*ell)
        patches.append(p.patch(ex, ey, fill_color=color, fill_alpha=0.1, line_color=color, line_width=1.0))

    p.segment([x0, 0], [0, y0], [x1, 0], [0, y1], line_color="black", line_width=1.1, line_dash="3 2")
    p.add_layout(Label(x=tx, y=ty, x_units="screen", y_units="screen", text=panel["tag"],
                       text_font="DejaVu Sans", text_font_size="32px", text_color="black",
                       text_baseline="alphabetic"))

    if panel["tag"] == "(i)":
        items = []
        for stage, patch_r, color in zip(STAGES, patches, STAGE_COLORS):
            dot = p.scatter(NO_DATA, NO_DATA, marker="circle", size=6, fill_color=color, line_color=color, alpha=0.9)
            items.append(LegendItem(label=stage, renderers=[patch_r, dot]))
        stage_legend = Legend(items=items, location=(241, 85), orientation="vertical", margin=0, padding=0, spacing=1,
                              glyph_width=15, glyph_height=15, label_height=15, label_standoff=3,
                              label_text_font="DejaVu Sans", label_text_font_size="11px", label_text_color="black",
                              background_fill_alpha=0, border_line_color=None)
        p.add_layout(stage_legend, "center")
        dk = "#333333"
        farm_items = [
            LegendItem(label="FarmA", renderers=[p.scatter(NO_DATA, NO_DATA, marker="circle", size=6, fill_color=dk, line_color=dk)]),
            LegendItem(label="FarmB", renderers=[p.scatter(NO_DATA, NO_DATA, marker="triangle", size=7, fill_color=dk, line_color=dk)]),
            LegendItem(label="FarmC", renderers=[p.scatter(NO_DATA, NO_DATA, marker="square_x", size=7, fill_color=None, line_color=dk, line_width=0.7)]),
            LegendItem(label="FarmD", renderers=[p.scatter(NO_DATA, NO_DATA, marker="cross", size=7, line_color=dk, line_width=0.7),
                                                 p.scatter(NO_DATA, NO_DATA, marker="x", size=7, line_color=dk, line_width=0.7)]),
        ]
        farm_legend = Legend(items=farm_items, location=(241, 5), orientation="vertical", margin=0, padding=0, spacing=1,
                             glyph_width=15, glyph_height=15, label_height=15, label_standoff=5,
                             label_text_font="DejaVu Sans", label_text_font_size="11px", label_text_color="black",
                             background_fill_alpha=0, border_line_color=None)
        p.add_layout(farm_legend, "center")
    figs.append(p)

page = column(row(figs[0], figs[1], figs[2], spacing=0),
              row(figs[3], figs[4], figs[5], spacing=0),
              row(figs[6], figs[7], figs[8], spacing=0),
              spacing=0)
open("out.html", "w").write(file_html(page, INLINE))
